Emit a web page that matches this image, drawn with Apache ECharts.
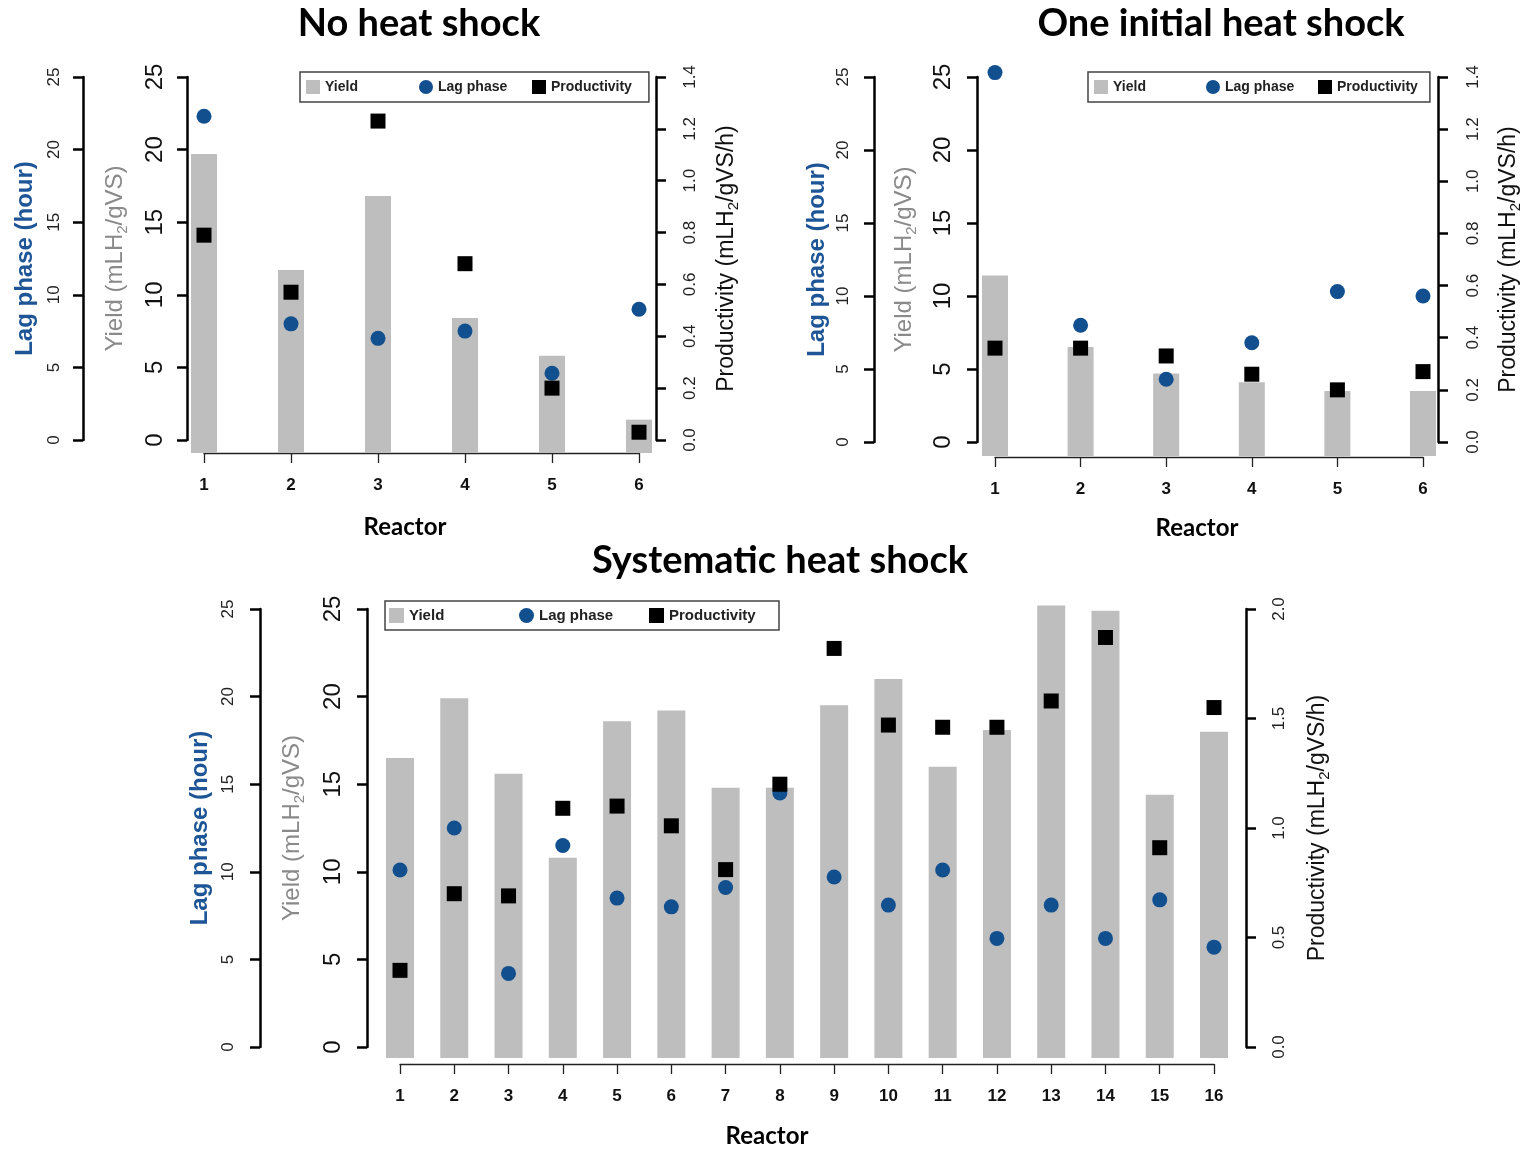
<!DOCTYPE html>
<html>
<head>
<meta charset="utf-8">
<script src="https://cdn.jsdelivr.net/npm/echarts@6/dist/echarts.min.js"></script>
<style>
html,body{margin:0;padding:0;background:#ffffff;}
#chart{width:1524px;height:1149px;}
</style>
</head>
<body>
<div id="chart"></div>
<script>
// ---------------- DATA ----------------
const panelTitles = ['No heat shock', 'One initial heat shock', 'Systematic heat shock'];
const seriesNames = ['Yield', 'Lag phase', 'Productivity'];
const xAxisTitle = 'Reactor';

const reactorsNoShock = [1, 2, 3, 4, 5, 6];
const yieldNoShock = [19.7, 11.7, 16.8, 8.4, 5.8, 1.4];
const lagNoShock = [22.3, 8.0, 7.0, 7.5, 4.6, 9.0];
const prodNoShock = [0.79, 0.57, 1.23, 0.68, 0.20, 0.03];

const reactorsInitial = [1, 2, 3, 4, 5, 6];
const yieldInitial = [11.4, 6.5, 4.7, 4.1, 3.5, 3.5];
const lagInitial = [25.3, 8.0, 4.3, 6.8, 10.3, 10.0];
const prodInitial = [0.36, 0.36, 0.33, 0.26, 0.20, 0.27];

const reactorsSystematic = [1, 2, 3, 4, 5, 6, 7, 8, 9, 10, 11, 12, 13, 14, 15, 16];
const yieldSystematic = [16.5, 19.9, 15.6, 10.8, 18.6, 19.2, 14.8, 14.8, 19.5, 21.0, 16.0, 18.1, 25.2, 24.9, 14.4, 18.0];
const lagSystematic = [10.1, 12.5, 4.2, 11.5, 8.5, 8.0, 9.1, 14.5, 9.7, 8.1, 10.1, 6.2, 8.1, 6.2, 8.4, 5.7];
const prodSystematic = [0.35, 0.70, 0.69, 1.09, 1.10, 1.01, 0.81, 1.20, 1.82, 1.47, 1.46, 1.46, 1.58, 1.87, 0.91, 1.55];

// tick labels
const yieldTicks = [0, 5, 10, 15, 20, 25];
const lagTicks = [0, 5, 10, 15, 20, 25];
const prodTicksSmall = [0.0, 0.2, 0.4, 0.6, 0.8, 1.0, 1.2, 1.4];
const prodTicksLarge = [0.0, 0.5, 1.0, 1.5, 2.0];

// ---------------- STYLE / LAYOUT ----------------
const FONT = "'Liberation Sans', Arial, sans-serif";
const TITLE_FONT = "Lato, 'Open Sans', sans-serif";
const BAR_COLOR = '#bebebe';
const LAG_COLOR = '#124f8f';
const LAG_TEXT = '#1d5596';
const PROD_COLOR = '#000000';

const layouts = [
  { grid: {left: 204, top: 77, width: 435, height: 363}, offYield: 17, offLag: 121, offProd: 17, offX: 13,
    barW: 26, barExt: 13, title: {x: 419, y: 5}, reactorLabel: {x: 405, y: 515},
    legend: {left: 300, top: 72, padding: [8, 17, 8, 6], gap: 14, icon: 14, font: 14, textW: 80},
    gaps: {lag: 46, yield: 57, prod: 56}, margins: {lag: 20, yield: 20, prod: 26}, sym: 15 },
  { grid: {left: 995, top: 77, width: 428, height: 365}, offYield: 18, offLag: 121, offProd: 15, offX: 15,
    barW: 26, barExt: 14, title: {x: 1221, y: 5}, reactorLabel: {x: 1197, y: 516},
    legend: {left: 1088, top: 72, padding: [8, 12, 8, 6], gap: 14, icon: 14, font: 14, textW: 79},
    gaps: {lag: 45, yield: 58, prod: 56}, margins: {lag: 22, yield: 22, prod: 27}, sym: 15 },
  { grid: {left: 400, top: 609, width: 814, height: 438}, offYield: 33, offLag: 140, offProd: 32, offX: 17,
    barW: 28, barExt: 11, title: {x: 780, y: 542}, reactorLabel: {x: 767, y: 1124},
    legend: {left: 385, top: 601, padding: [7, 15, 7, 4], gap: 15, icon: 15, font: 15, textW: 95},
    gaps: {lag: 48, yield: 60, prod: 57}, margins: {lag: 23, yield: 22, prod: 25}, sym: 15 }
];

const panelData = [
  {reactors: reactorsNoShock, yieldV: yieldNoShock, lagV: lagNoShock, prodV: prodNoShock, prodTicks: prodTicksSmall},
  {reactors: reactorsInitial, yieldV: yieldInitial, lagV: lagInitial, prodV: prodInitial, prodTicks: prodTicksSmall},
  {reactors: reactorsSystematic, yieldV: yieldSystematic, lagV: lagSystematic, prodV: prodSystematic, prodTicks: prodTicksLarge}
];

function tickRange(t) {
  return {min: t[0], max: t[t.length - 1], interval: +(t[1] - t[0]).toFixed(6)};
}

function makeBarRenderer(barW, barExt) {
  return function (params, api) {
    const x = api.value(0), v = api.value(1);
    const top = api.coord([x, v]);
    const zero = api.coord([x, 0]);
    return {
      type: 'rect',
      shape: {x: top[0] - barW / 2, y: top[1], width: barW, height: zero[1] + barExt - top[1]},
      style: {fill: BAR_COLOR}
    };
  };
}

const grids = [], xAxes = [], yAxes = [], series = [], legends = [], titles = [];

panelData.forEach((d, p) => {
  const L = layouts[p];
  grids.push(Object.assign({containLabel: false, outerBoundsMode: 'none'}, L.grid));

  titles.push({text: panelTitles[p], left: L.title.x, top: L.title.y, textAlign: 'center', padding: 0,
    textStyle: {fontFamily: TITLE_FONT, fontWeight: 'bold', fontSize: 38, color: '#000'}});
  titles.push({text: xAxisTitle, left: L.reactorLabel.x, top: L.reactorLabel.y, textAlign: 'center', padding: 0,
    textStyle: {fontFamily: TITLE_FONT, fontWeight: 'bold', fontSize: 24, color: '#000'}});

  const xr = {min: d.reactors[0], max: d.reactors[d.reactors.length - 1], interval: 1};
  xAxes.push(Object.assign({
    gridIndex: p, type: 'value', position: 'bottom', offset: L.offX,
    axisLine: {show: true, onZero: false, lineStyle: {color: '#222', width: 1.3}},
    axisTick: {show: true, length: 10, lineStyle: {color: '#222', width: 1.3}},
    axisLabel: {fontFamily: FONT, fontSize: 17, fontWeight: 'bold', color: '#111', margin: 24},
    splitLine: {show: false}
  }, xr));

  const thick = {show: true, onZero: false, lineStyle: {color: '#000', width: 2.5}};
  const tick = {show: true, length: 10, lineStyle: {color: '#000', width: 2.5}};

  // yield axis
  yAxes.push(Object.assign({
    gridIndex: p, type: 'value', position: 'left', offset: L.offYield,
    axisLine: thick, axisTick: tick, splitLine: {show: false},
    axisLabel: {rotate: 90, fontFamily: FONT, fontSize: 24, color: '#111', margin: L.margins.yield},
    name: '{a|Yield (mLH}{b|2}{a|/gVS)}', nameLocation: 'middle', nameRotate: 90, nameGap: L.gaps.yield,
    nameTextStyle: {rich: {
      a: {fontFamily: FONT, fontSize: 24, color: '#8a8a8a', lineHeight: 30},
      b: {fontFamily: FONT, fontSize: 15, color: '#8a8a8a', lineHeight: 15, verticalAlign: 'bottom'}
    }}
  }, tickRange(yieldTicks)));
  // lag axis
  yAxes.push(Object.assign({
    gridIndex: p, type: 'value', position: 'left', offset: L.offLag,
    axisLine: thick, axisTick: tick, splitLine: {show: false},
    axisLabel: {rotate: 90, fontFamily: FONT, fontSize: 17, color: '#222', margin: L.margins.lag},
    name: 'Lag phase (hour)', nameLocation: 'middle', nameRotate: 90, nameGap: L.gaps.lag,
    nameTextStyle: {fontFamily: FONT, fontSize: 24, fontWeight: 'bold', color: LAG_TEXT}
  }, tickRange(lagTicks)));
  // productivity axis
  yAxes.push(Object.assign({
    gridIndex: p, type: 'value', position: 'right', offset: L.offProd,
    axisLine: thick, axisTick: tick, splitLine: {show: false},
    axisLabel: {rotate: 90, fontFamily: FONT, fontSize: 17, color: '#222', margin: L.margins.prod,
      formatter: v => v.toFixed(1)},
    name: '{a|Productivity (mLH}{b|2}{a|/gVS/h)}', nameLocation: 'middle', nameRotate: 90, nameGap: L.gaps.prod,
    nameTextStyle: {rich: {
      a: {fontFamily: FONT, fontSize: 23, color: '#111', lineHeight: 29},
      b: {fontFamily: FONT, fontSize: 15, color: '#111', lineHeight: 15, verticalAlign: 'bottom'}
    }}
  }, tickRange(d.prodTicks)));

  series.push({
    name: seriesNames[0], type: 'custom', xAxisIndex: p, yAxisIndex: 3 * p, clip: false, z: 1,
    itemStyle: {color: BAR_COLOR},
    renderItem: makeBarRenderer(L.barW, L.barExt),
    encode: {x: 0, y: 1},
    data: d.reactors.map((r, i) => [r, d.yieldV[i]])
  });
  series.push({
    name: seriesNames[1], type: 'scatter', xAxisIndex: p, yAxisIndex: 3 * p + 1, clip: false, z: 3,
    symbol: 'circle', symbolSize: L.sym, itemStyle: {color: LAG_COLOR, opacity: 1},
    data: d.reactors.map((r, i) => [r, d.lagV[i]])
  });
  series.push({
    name: seriesNames[2], type: 'scatter', xAxisIndex: p, yAxisIndex: 3 * p + 2, clip: false, z: 4,
    symbol: 'rect', symbolSize: L.sym, itemStyle: {color: PROD_COLOR, opacity: 1},
    data: d.reactors.map((r, i) => [r, d.prodV[i]])
  });

  const G = L.legend;
  legends.push({
    left: G.left, top: G.top, orient: 'horizontal',
    padding: G.padding, itemGap: G.gap, itemWidth: G.icon, itemHeight: G.icon,
    borderColor: '#444', borderWidth: 1.5, backgroundColor: '#fff',
    selectedMode: false,
    textStyle: {
      fontFamily: FONT, fontSize: G.font, fontWeight: 'bold', color: '#222',
      width: G.textW, backgroundColor: 'rgba(255,255,255,0.01)'
    },
    data: [
      {name: seriesNames[0], icon: 'rect'},
      {name: seriesNames[1], icon: 'circle'},
      {name: seriesNames[2], icon: 'rect'}
    ]
  });
});

const chart = echarts.init(document.getElementById('chart'), null, {renderer: 'canvas'});
chart.setOption({
  backgroundColor: '#ffffff',
  animation: false,
  title: titles,
  legend: legends,
  grid: grids,
  xAxis: xAxes,
  yAxis: yAxes,
  series: series
});
</script>
</body>
</html>
